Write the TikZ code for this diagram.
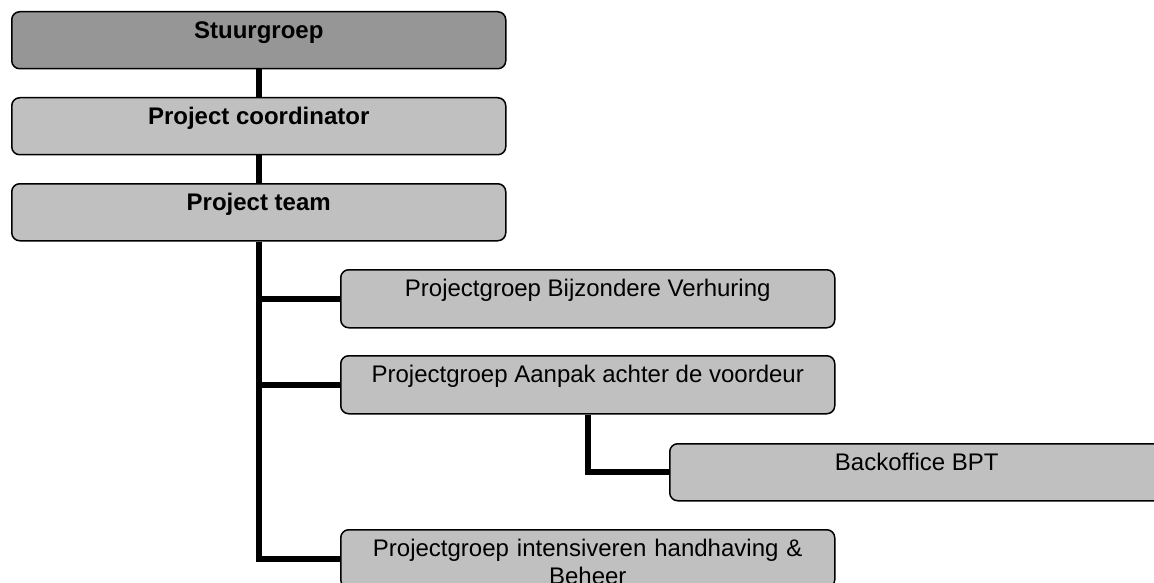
\documentclass[tikz,border=0pt]{standalone}
\usepackage{fontspec}
\setmainfont{Liberation Sans}
\definecolor{boxgray}{RGB}{192,192,192}
\definecolor{darkbox}{RGB}{150,150,150}
\begin{document}
\begin{tikzpicture}[x=1pt,y=-1pt,
  box/.style={draw=black, line width=1.5pt, rounded corners=8pt, fill=boxgray,
    minimum width=494pt, minimum height=58pt, inner xsep=0pt, inner ysep=0pt,
    text height=27pt, text depth=31pt, font=\fontsize{24}{28}\selectfont,
    anchor=north west},
  topbox/.style={box, font=\fontsize{24}{28}\selectfont\bfseries},
  conn/.style={draw=black, line width=6pt, line join=miter}]
\useasboundingbox (0,0) rectangle (1154,583);
\node[topbox, fill=darkbox, minimum height=57pt, text depth=30pt] (s) at (11,11) {Stuurgroep};
\node[topbox, minimum height=57pt, text depth=30pt] (pc) at (11,97) {Project coordinator};
\node[topbox, minimum height=57pt, text depth=30pt] (pt) at (11,183) {Project team};
\node[box] (g1) at (340,269) {Projectgroep Bijzondere Verhuring};
\node[box] (g2) at (340,355) {Projectgroep Aanpak achter de voordeur};
\node[box, minimum height=57pt, text depth=30pt] (bo) at (669,443) {Backoffice BPT};
\node[box, text width=494pt, align=center] (g3) at (340,529) {Projectgroep intensiveren handhaving \&\\Beheer};
\begin{scope}[on background layer/.try]
\end{scope}
\draw[conn] (s.south) -- (pc.north);
\draw[conn] (pc.south) -- (pt.north);
\draw[conn] (pt.south) |- (g1.west);
\draw[conn] (pt.south) |- (g2.west);
\draw[conn] (pt.south) |- (g3.west);
\draw[conn] (g2.south) |- (bo.west);
\end{tikzpicture}
\end{document}
